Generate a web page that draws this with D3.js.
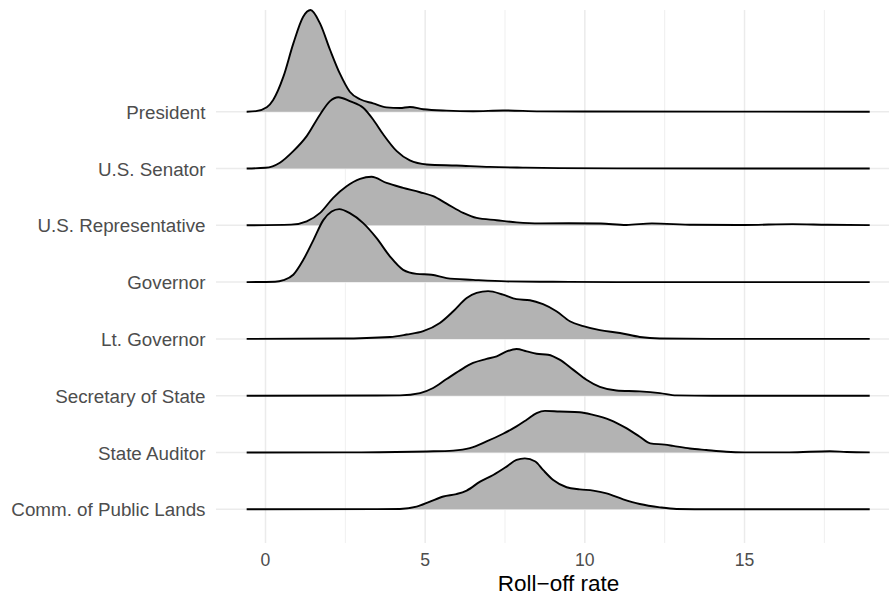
<!DOCTYPE html>
<html>
<head>
<meta charset="utf-8">
<script src="https://cdn.jsdelivr.net/npm/d3@7"></script>
<style>
  body { margin: 0; background: #fff; }
  svg { display: block; font-family: "Liberation Sans", Arial, sans-serif; }
</style>
</head>
<body>
<div id="target"></div>
<script>
const width = 889;
const height = 600;

// offices, top to bottom
const offices = [
  'President',
  'U.S. Senator',
  'U.S. Representative',
  'Governor',
  'Lt. Governor',
  'Secretary of State',
  'State Auditor',
  'Comm. of Public Lands',
];

// density estimates: [roll-off rate, density]
const president = [
  [-0.59, 0], [-0.3, 0.003], [0.04, 0.025], [0.24, 0.067], [0.56, 0.2], [0.87, 0.389],
  [1.18, 0.543], [1.41, 0.581], [1.71, 0.503], [2.02, 0.354], [2.33, 0.217], [2.64, 0.114],
  [2.96, 0.071], [3.37, 0.048], [3.79, 0.025], [4.21, 0.021], [4.52, 0.027], [4.94, 0.014],
  [5.67, 0.006], [6.5, 0.003], [7.44, 0.007], [8.6, 0.002], [10, 0.001], [18.92, 0],
];
const senator = [
  [-0.59, 0], [0, 0.004], [0.45, 0.033], [0.87, 0.099], [1.29, 0.185], [1.71, 0.309],
  [2.02, 0.385], [2.28, 0.407], [2.64, 0.385], [3.06, 0.347], [3.37, 0.28], [3.69, 0.194],
  [4.11, 0.099], [4.52, 0.046], [5.05, 0.023], [5.98, 0.017], [7.03, 0.009], [8.06, 0.005],
  [9.2, 0.002], [11, 0.001], [18.92, 0],
];
const representative = [
  [-0.59, 0], [0.8, 0.004], [1.29, 0.023], [1.71, 0.071], [2.12, 0.157], [2.54, 0.223],
  [2.96, 0.265], [3.32, 0.277], [3.79, 0.242], [4.31, 0.214], [4.84, 0.189], [5.25, 0.166],
  [5.67, 0.124], [6.19, 0.071], [6.61, 0.042], [7.24, 0.029], [7.86, 0.017], [8.6, 0.011],
  [9.5, 0.012], [10.5, 0.01], [11.3, 0.002], [12.1, 0.011], [13.4, 0.003], [15, 0.002],
  [16.5, 0.007], [17.6, 0.003], [18.92, 0.001],
];
const governor = [
  [-0.59, 0], [0.3, 0.002], [0.56, 0.011], [0.87, 0.042], [1.18, 0.126], [1.5, 0.24],
  [1.81, 0.354], [2.07, 0.403], [2.31, 0.417], [2.64, 0.394], [3.06, 0.337], [3.48, 0.251],
  [3.9, 0.146], [4.31, 0.07], [4.73, 0.047], [5.2, 0.042], [5.67, 0.023], [6.5, 0.013],
  [7.55, 0.004], [9, 0.002], [11, 0], [18.92, 0],
];
const ltGovernor = [
  [-0.59, 0], [2.33, 0.002], [3.9, 0.011], [4.42, 0.025], [4.94, 0.044], [5.46, 0.091],
  [5.88, 0.158], [6.3, 0.234], [6.61, 0.263], [6.97, 0.273], [7.44, 0.253], [7.86, 0.227],
  [8.28, 0.221], [8.69, 0.198], [9.11, 0.158], [9.53, 0.101], [9.95, 0.073], [10.47, 0.05],
  [11.1, 0.034], [11.72, 0.011], [12.35, 0.002], [14, 0], [18.92, 0],
];
const secretary = [
  [-0.59, 0], [3.5, 0.001], [4.21, 0.002], [4.84, 0.015], [5.25, 0.044], [5.67, 0.095],
  [6.09, 0.145], [6.5, 0.187], [6.92, 0.21], [7.24, 0.225], [7.55, 0.253], [7.86, 0.267],
  [8.18, 0.253], [8.49, 0.24], [8.85, 0.234], [9.21, 0.206], [9.63, 0.149], [10.05, 0.091],
  [10.47, 0.05], [10.99, 0.03], [11.72, 0.025], [12.35, 0.015], [12.87, 0.002], [14, 0],
  [18.92, 0],
];
const auditor = [
  [-0.59, 0], [3, 0.001], [5.05, 0.006], [5.88, 0.011], [6.4, 0.025], [6.92, 0.063],
  [7.44, 0.107], [7.86, 0.149], [8.18, 0.187], [8.49, 0.225], [8.75, 0.238], [9.21, 0.234],
  [9.84, 0.23], [10.26, 0.215], [10.78, 0.187], [11.3, 0.139], [11.72, 0.09], [12.05, 0.052],
  [12.5, 0.045], [12.76, 0.038], [13.29, 0.023], [13.8, 0.014], [14.43, 0.004], [15, 0.001],
  [16.4, 0.001], [17.67, 0.007], [18.2, 0.003], [18.92, 0.001],
];
const publicLands = [
  [-0.59, 0], [3.5, 0.001], [4.21, 0.002], [4.73, 0.015], [5.15, 0.044], [5.57, 0.073],
  [5.98, 0.087], [6.3, 0.107], [6.72, 0.158], [7.13, 0.196], [7.55, 0.244], [7.86, 0.282],
  [8.12, 0.291], [8.45, 0.273], [8.69, 0.225], [9.01, 0.167], [9.43, 0.126], [9.84, 0.114],
  [10.26, 0.107], [10.68, 0.091], [11.2, 0.057], [11.72, 0.03], [12.35, 0.011], [12.87, 0.002],
  [14, 0], [18.92, 0],
];

const densities = [president, senator, representative, governor, ltGovernor, secretary, auditor, publicLands];

const xMajor = [0, 5, 10, 15];
const xMinor = [2.5, 7.5, 12.5, 17.5];

const panel = { left: 216, right: 901, top: 10, bottom: 543 };

const svg = d3.select('#target').append('svg').attr('width', width).attr('height', height);

const x = d3.scaleLinear().domain([-1.55, 19.9]).range([panel.left, panel.right]);
const y = d3.scalePoint().domain(offices).range([111.7, 509.3]);

const maxDensity = d3.max(densities.flat(), (d) => d[1]);
const h = d3.scaleLinear().domain([0, maxDensity]).range([0, 101.7]);

// grid
const grid = svg.append('g');
grid
  .selectAll('.minor')
  .data(xMinor)
  .enter()
  .append('line')
  .attr('x1', (d) => x(d))
  .attr('x2', (d) => x(d))
  .attr('y1', panel.top)
  .attr('y2', panel.bottom)
  .attr('stroke', '#EBEBEB')
  .attr('stroke-width', 0.8);
grid
  .selectAll('.major')
  .data(xMajor)
  .enter()
  .append('line')
  .attr('x1', (d) => x(d))
  .attr('x2', (d) => x(d))
  .attr('y1', panel.top)
  .attr('y2', panel.bottom)
  .attr('stroke', '#EBEBEB')
  .attr('stroke-width', 1.5);
grid
  .selectAll('.hmajor')
  .data(offices)
  .enter()
  .append('line')
  .attr('x1', panel.left)
  .attr('x2', panel.right)
  .attr('y1', (d) => y(d))
  .attr('y2', (d) => y(d))
  .attr('stroke', '#EBEBEB')
  .attr('stroke-width', 1.5);

// ridges, top row first so lower ridges sit in front
const ridges = svg
  .selectAll('.ridge')
  .data(offices)
  .enter()
  .append('g')
  .attr('class', 'ridge');

ridges
  .append('path')
  .attr('fill', '#B3B3B3')
  .attr('d', (d, i) =>
    d3
      .area()
      .x((p) => x(p[0]))
      .y0(y(d))
      .y1((p) => y(d) - h(p[1]))
      .curve(d3.curveMonotoneX)(densities[i])
  );

ridges
  .append('path')
  .attr('fill', 'none')
  .attr('stroke', '#000')
  .attr('stroke-width', 1.9)
  .attr('stroke-linejoin', 'round')
  .attr('d', (d, i) =>
    d3
      .line()
      .x((p) => x(p[0]))
      .y((p) => y(d) - h(p[1]))
      .curve(d3.curveMonotoneX)(densities[i])
  );

// axes
svg
  .selectAll('.ylab')
  .data(offices)
  .enter()
  .append('text')
  .attr('x', 205.5)
  .attr('y', (d) => y(d) + 7)
  .attr('text-anchor', 'end')
  .attr('fill', '#4D4D4D')
  .style('font-size', '18.8px')
  .text((d) => d);

svg
  .selectAll('.xlab')
  .data(xMajor)
  .enter()
  .append('text')
  .attr('x', (d) => x(d))
  .attr('y', 566)
  .attr('text-anchor', 'middle')
  .attr('fill', '#4D4D4D')
  .style('font-size', '17.6px')
  .text((d) => d);

svg
  .append('text')
  .attr('x', (panel.left + panel.right) / 2)
  .attr('y', 590.5)
  .attr('text-anchor', 'middle')
  .attr('fill', '#000')
  .style('font-size', '22.5px')
  .text('Roll\u2212off rate');
</script>
</body>
</html>
